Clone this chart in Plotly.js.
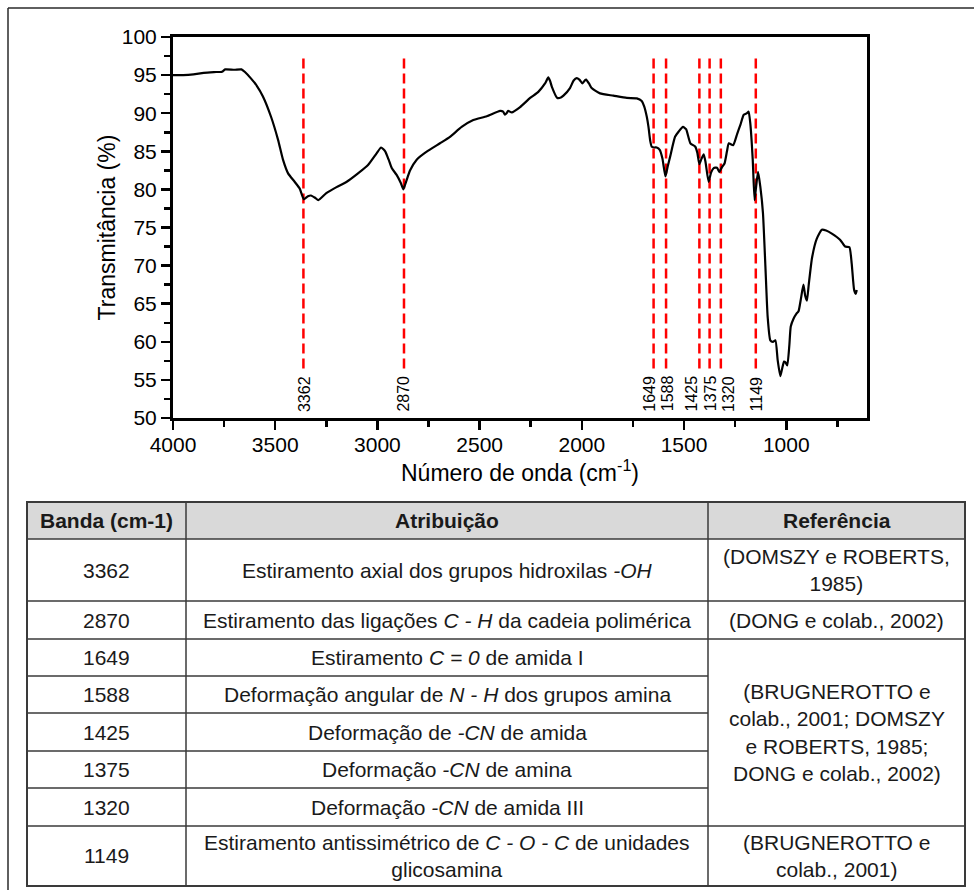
<!DOCTYPE html>
<html>
<head>
<meta charset="utf-8">
<script src="https://cdn.plot.ly/plotly-3.0.1.min.js"></script>
<style>html,body{margin:0;padding:0;background:#fff;}#chart{width:974px;height:890px;}</style>
</head>
<body>
<div id="chart"></div>
<script>
// ---- spectrum data ----
const wavenumber = [4000,3950,3900,3850,3800,3760,3745,3700,3665,3648,3620,3590,3560,3520,3486,3462,3437,3405,3380,3360,3340,3325,3305,3289,3250,3200,3150,3095,3046,3005,2982,2962,2945,2930,2906,2885,2873,2860,2840,2808,2759,2694,2645,2588,2531,2465,2400,2385,2376,2368,2360,2343,2302,2253,2213,2180,2164,2155,2147,2120,2100,2090,2058,2040,2025,2012,1997,1985,1979,1965,1952,1911,1846,1780,1731,1707,1695,1682,1674,1665,1658,1645,1634,1619,1606,1591,1580,1568,1544,1526,1505,1490,1469,1445,1435,1425,1415,1404,1395,1380,1368,1355,1339,1327,1315,1302,1290,1281,1260,1240,1224,1208,1192,1184,1176,1164,1155,1147,1138,1127,1114,1102,1091,1078,1065,1053,1042,1029,1020,1011,1004,995,985,978,965,950,940,928,916,907,899,890,874,851,826,805,777,737,712,691,680,668,660,655];
const transmitancia = [95.0,95.0,95.1,95.3,95.4,95.45,95.75,95.7,95.75,95.4,94.6,93.6,92.2,89.5,86.5,83.9,82.1,81.0,80.1,78.7,79.1,79.2,78.9,78.6,79.5,80.3,81.0,82.1,83.2,84.7,85.5,85.0,83.9,82.8,81.9,80.8,80.0,81.0,82.5,83.9,84.95,86.05,86.9,88.2,89.1,89.6,90.3,90.2,89.8,90.0,90.3,90.1,90.8,92.0,92.8,93.9,94.7,94.2,93.5,92.0,92.1,92.3,93.3,94.3,94.6,94.4,93.9,94.3,94.4,93.9,93.3,92.6,92.3,92.0,91.95,91.6,90.9,89.5,88.2,86.3,85.6,85.5,85.5,85.2,84.1,81.7,83.0,84.3,86.9,87.6,88.2,87.9,86.05,85.6,84.8,83.3,84.0,84.6,83.6,81.0,82.2,82.8,82.85,82.3,82.9,83.4,85.0,86.05,85.8,87.3,88.5,89.8,90.0,90.2,88.7,83.9,78.6,80.5,82.3,80.4,76.9,69.9,63.3,60.2,60.0,60.2,57.6,55.5,56.5,57.4,57.3,56.9,59.5,62.0,63.0,63.7,64.0,65.7,67.5,66.0,65.4,67.5,71.0,73.5,74.7,74.6,74.2,73.4,72.5,72.4,70.3,66.8,66.3,66.8];

// ---- bands (dashed markers + table) ----
const bandas = [3362, 2870, 1649, 1588, 1425, 1375, 1320, 1149];
const atribuicoes = [
  "Estiramento axial dos grupos hidroxilas <i>-OH</i>",
  "Estiramento das ligações <i>C - H</i> da cadeia polimérica",
  "Estiramento <i>C = 0</i> de amida I",
  "Deformação angular de <i>N - H</i> dos grupos amina",
  "Deformação de <i>-CN</i> de amida",
  "Deformação <i>-CN</i> de amina",
  "Deformação <i>-CN</i> de amida III",
  "Estiramento antissimétrico de <i>C - O - C</i> de unidades<br>glicosamina"
];
const referencias = [
  "(DOMSZY e ROBERTS,<br>1985)",
  "(DONG e colab., 2002)",
  "(BRUGNEROTTO e<br>colab., 2001; DOMSZY<br>e ROBERTS, 1985;<br>DONG e colab., 2002)",
  "(BRUGNEROTTO e<br>colab., 2001)"
];
const referenciaLinhas = [1, 1, 5, 1];   // number of band rows each reference spans
const cabecalho = ["Banda (cm-1)", "Atribuição", "Referência"];

// ---- layout geometry (pixels) ----
const FONT = "Liberation Sans, Arial, Helvetica, sans-serif";
const PL = 173, PR = 867, PT = 37, PB = 418;
const px = x => (x - PL) / (PR - PL);
const py = y => (PB - y) / (PB - PT);
const colEdges = [27, 186, 708, 965];
const rowEdges = [502, 539, 601, 639, 676, 713, 751, 788, 826, 886];
const LINEC = "#3a3a3a";
// horizontal pixel offsets of the rotated band labels (spread apart to avoid overlap)
const labelShift = [1, 0, -3.5, 1.5, -7.5, 1, 7.5, 1];

const shapes = [];
const annotations = [];

// outer frame (top + left)
shapes.push({type:"line", xref:"paper", yref:"paper", x0:px(8), x1:px(974), y0:py(8), y1:py(8), line:{color:"#2a2a2a", width:1.5}});
shapes.push({type:"line", xref:"paper", yref:"paper", x0:px(8), x1:px(8), y0:py(8), y1:py(890), line:{color:"#2a2a2a", width:1.5}});

// dashed band lines + labels
bandas.forEach((b, i) => {
  shapes.push({type:"line", xref:"x", yref:"y", x0:b, x1:b, y0:56.5, y1:97.6, layer:"below",
    line:{color:"#ff0000", width:2.5, dash:"10px,5px"}});
  annotations.push({x:b, y:53.2, xref:"x", yref:"y", text:String(b), showarrow:false, textangle:-90,
    xshift:labelShift[i], font:{family:FONT, size:16, color:"#000"}});
});

// table: header fill
shapes.push({type:"rect", xref:"paper", yref:"paper", x0:px(colEdges[0]), x1:px(colEdges[3]), y0:py(rowEdges[0]), y1:py(rowEdges[1]),
  fillcolor:"#d9d9d9", line:{width:0}});
// horizontal lines
const refBoundaries = [];
let acc = 0;
referenciaLinhas.forEach(n => { acc += n; refBoundaries.push(acc); });
for (let r = 1; r < rowEdges.length - 1; r++) {
  const bandIdx = r - 1;
  const full = (r === 1) || refBoundaries.includes(bandIdx);
  shapes.push({type:"line", xref:"paper", yref:"paper", x0:px(colEdges[0]), x1:px(full ? colEdges[3] : colEdges[2]),
    y0:py(rowEdges[r]), y1:py(rowEdges[r]), line:{color:LINEC, width:1.5}});
}
// vertical inner lines
[1, 2].forEach(c => shapes.push({type:"line", xref:"paper", yref:"paper", x0:px(colEdges[c]), x1:px(colEdges[c]),
  y0:py(rowEdges[0]), y1:py(rowEdges[rowEdges.length-1]), line:{color:LINEC, width:1.5}}));
// outer table border
shapes.push({type:"rect", xref:"paper", yref:"paper", x0:px(colEdges[0]), x1:px(colEdges[3]), y0:py(rowEdges[0]), y1:py(rowEdges[rowEdges.length-1]),
  line:{color:LINEC, width:2}});

const TF = {family:FONT, size:21, color:"#1a1a1a"};
const cellText = (txt, c, rTop, rBot, bold) => annotations.push({
  xref:"paper", yref:"paper", x:px((colEdges[c] + colEdges[c+1]) / 2), y:py((rowEdges[rTop] + rowEdges[rBot]) / 2),
  text: bold ? "<b>" + txt + "</b>" : txt, showarrow:false, align:"center", xanchor:"center", yanchor:"middle",
  font:TF});
cabecalho.forEach((h, c) => cellText(h, c, 0, 1, true));
bandas.forEach((b, i) => {
  cellText(String(b), 0, i + 1, i + 2, false);
  cellText(atribuicoes[i], 1, i + 1, i + 2, false);
});
let start = 0;
referencias.forEach((ref, k) => {
  cellText(ref, 2, start + 1, start + 1 + referenciaLinhas[k], false);
  start += referenciaLinhas[k];
});

const axisCommon = {
  showgrid:false, zeroline:false, showline:true, linewidth:3, linecolor:"#000", mirror:true,
  ticks:"outside", ticklen:9, tickwidth:2.5, tickcolor:"#000",
  tickfont:{family:FONT, size:21, color:"#000"},
};

const trace = {
  x: wavenumber, y: transmitancia, type:"scatter", mode:"lines",
  line:{color:"#000", width:2.2, shape:"spline", smoothing:0.5}, hoverinfo:"skip"
};

const layout = {
  width:974, height:890,
  margin:{l:PL, r:974-PR, t:PT, b:890-PB, pad:0},
  paper_bgcolor:"#fff", plot_bgcolor:"#fff",
  showlegend:false,
  font:{family:FONT, color:"#000"},
  xaxis: Object.assign({}, axisCommon, {
    range:[4000, 605], tick0:0, dtick:500, ticklabelstandoff:-3,
    minor:{dtick:250, ticks:"outside", ticklen:6, tickwidth:2.5, tickcolor:"#000", showgrid:false},
    title:{text:"Número de onda (cm<sup>-1</sup>)", font:{family:FONT, size:23, color:"#000"}, standoff:6}
  }),
  yaxis: Object.assign({}, axisCommon, {
    range:[50, 100], tick0:0, dtick:5,
    minor:{dtick:2.5, ticks:"outside", ticklen:6, tickwidth:2.5, tickcolor:"#000", showgrid:false},
    title:{text:"Transmitância (%)", font:{family:FONT, size:23, color:"#000"}, standoff:0}
  }),
  shapes: shapes,
  annotations: annotations
};

Plotly.newPlot("chart", [trace], layout, {staticPlot:true, displayModeBar:false});
</script>
</body>
</html>
